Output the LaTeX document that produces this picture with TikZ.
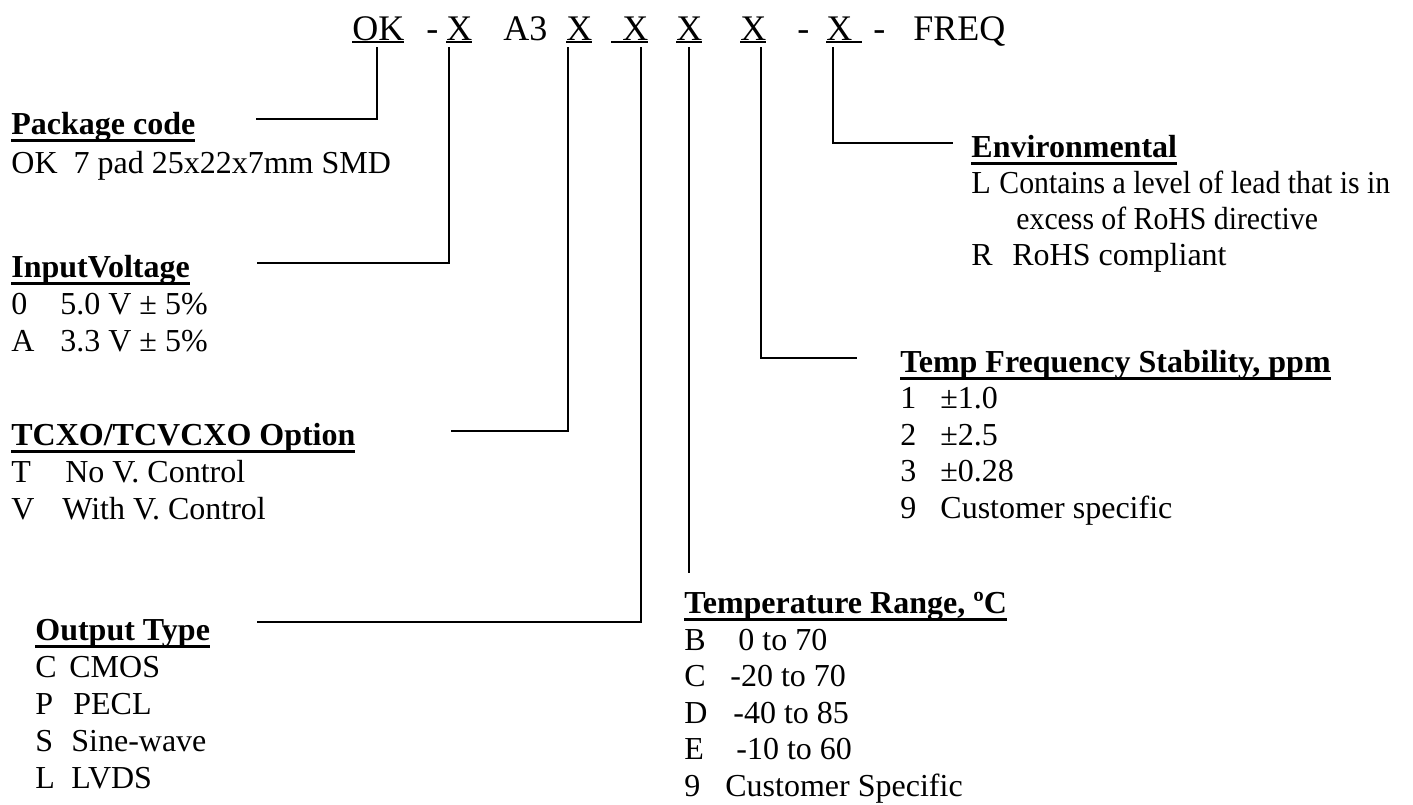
\documentclass[tikz,border=0pt]{standalone}
\usepackage{fontspec}
\setmainfont{Liberation Serif}

% underlined bold heading and underlined code letter
\newcommand{\headul}[1]{\setbox0\hbox{\bfseries #1}\rlap{\rule[-4pt]{\wd0}{1.3pt}}\box0}
\newcommand{\codeul}[1]{\setbox0\hbox{#1}\rlap{\rule[-1.6pt]{\wd0}{0.9pt}}\box0}
% option letter followed by its meaning
\newcommand{\opt}[3]{\makebox[#1][l]{#2}#3}

\begin{document}
\begin{tikzpicture}[x=0.5pt, y=-0.5pt,
    code/.style={anchor=base west, inner sep=0, font=\fontsize{18}{21}\selectfont},
    head/.style={anchor=base west, inner sep=0, font=\fontsize{16}{19}\selectfont},
    entry/.style={anchor=base west, inner sep=0, font=\fontsize{16}{19}\selectfont},
    lead/.style={line width=1pt}]

\useasboundingbox (0,0) rectangle (1413,804);

% --- Part number ---
\node[code] (ok)    at (352,40) {\codeul{OK}};
\node[code] (dsha)  at (426,40) {-};
\node[code] (xvolt) at (446,40) {\codeul{X}};
\node[code] (athree) at (503,40) {A3};
\node[code] (xopt)  at (566,40) {\codeul{X}};
\node[code] (xout)  at (611,40) {\codeul{\hspace{5.5pt}X}};
\node[code] (xtemp) at (676,40) {\codeul{X}};
\node[code] (xstab) at (740,40) {\codeul{X}};
\node[code] (dshb)  at (797,40) {-};
\node[code] (xenv)  at (826,40) {\codeul{X\hspace{5pt}}};
\node[code] (dshc)  at (873,40) {-};
\node[code] (freq)  at (913,40) {FREQ};

% --- Leader feet and tips ---
\coordinate (okfoot) at (377,47);   \coordinate (pkgtip) at (256,119);
\coordinate (voltfoot) at (449,47); \coordinate (volttip) at (257,263);
\coordinate (optfoot) at (568,47);  \coordinate (opttip) at (451,431);
\coordinate (outfoot) at (641,47);  \coordinate (outtip) at (257,622);
\coordinate (tempfoot) at (689,47); \coordinate (temptip) at (689,573);
\coordinate (stabfoot) at (761,47); \coordinate (stabtip) at (857,358);
\coordinate (envfoot) at (833,47);  \coordinate (envtip) at (953,143);

\draw[lead] (okfoot) |- (pkgtip);
\draw[lead] (voltfoot) |- (volttip);
\draw[lead] (optfoot) |- (opttip);
\draw[lead] (outfoot) |- (outtip);
\draw[lead] (tempfoot) -- (temptip);
\draw[lead] (stabfoot) |- (stabtip);
\draw[lead] (envfoot) |- (envtip);

% --- Package code ---
\node[head]  (pkg)  at (11,134) {\headul{Package code}};
\node[entry] (pkga) at (11,173) {OK\ \ 7 pad 25x22x7mm SMD};

% --- Input voltage ---
\node[head]  (volt)  at (11,277) {\headul{InputVoltage}};
\node[entry] (volta) at (11,314) {\opt{24.5pt}{0}{5.0 V ± 5\%}};
\node[entry] (voltb) at (11,351) {\opt{24.5pt}{A}{3.3 V ± 5\%}};

% --- TCXO/TCVCXO option ---
\node[head]  (opt)  at (11,445) {\headul{TCXO/TCVCXO Option}};
\node[entry] (opta) at (11,482) {\opt{27pt}{T}{No V. Control}};
\node[entry] (optb) at (11,519) {\opt{25.5pt}{V}{With V. Control}};

% --- Output type ---
\node[head]  (out)  at (35,640) {\headul{Output Type}};
\node[entry] (outa) at (35,677) {\opt{17pt}{C}{CMOS}};
\node[entry] (outb) at (35,714) {\opt{19pt}{P}{PECL}};
\node[entry] (outc) at (35,751) {\opt{18pt}{S}{Sine-wave}};
\node[entry] (outd) at (35,788) {\opt{18pt}{L}{LVDS}};

% --- Temperature range ---
\node[head]  (temp)  at (684,613) {\headul{Temperature Range, ºC}};
\node[entry] (tempa) at (684,650) {\opt{27pt}{B}{0 to 70}};
\node[entry] (tempb) at (684,686.5) {\opt{23pt}{C}{-20 to 70}};
\node[entry] (tempc) at (684,723) {\opt{24.5pt}{D}{-40 to 85}};
\node[entry] (tempd) at (684,759.5) {\opt{26pt}{E}{-10 to 60}};
\node[entry] (tempe) at (684,796) {\opt{20.5pt}{9}{Customer Specific}};

% --- Temp frequency stability ---
\node[head] (stab) at (900,372) {\headul{Temp Frequency Stability, ppm}};
\foreach \k/\v [count=\i] in {1/±1.0, 2/±2.5, 3/±0.28, 9/Customer specific}
  \node[entry] (stab\i) at (900,372+36.5*\i) {\opt{20pt}{\k}{\v}};

% --- Environmental ---
\node[head]  (env)  at (971,157) {\headul{Environmental}};
\node[entry] (enva) at (971,193) {\opt{14pt}{L}{\scalebox{0.93}[1]{Contains a level of lead that is in}}};
\node[entry] (envb) at (971,229) {\hspace{22.5pt}\scalebox{0.93}[1]{excess of RoHS directive}};
\node[entry] (envc) at (971,265) {\opt{20.5pt}{R}{RoHS compliant}};

\end{tikzpicture}
\end{document}
